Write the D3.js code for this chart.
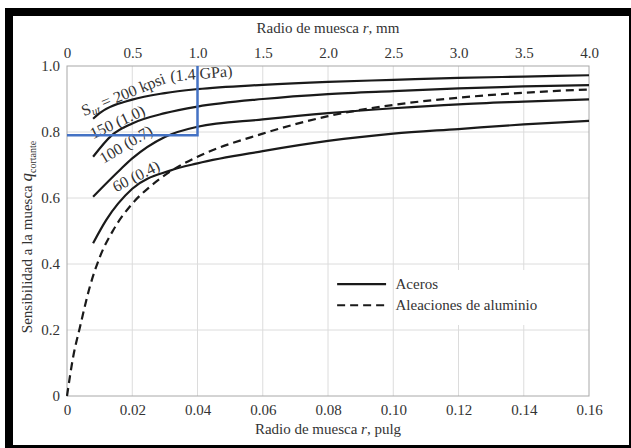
<!DOCTYPE html>
<html>
<head>
<meta charset="utf-8">
<script src="https://cdn.jsdelivr.net/npm/d3@7"></script>
<style>
  body { margin: 0; background: #fff; }
  svg { display: block; }
  svg text { font-family: "Liberation Serif", "Times New Roman", "DejaVu Serif", serif !important; }
</style>
</head>
<body>
<div id="chart"></div>
<script>
// notch radius in inches, q values
const steel200 = [[0.008,0.84],[0.01,0.857],[0.02,0.898],[0.03,0.918],[0.04,0.93],[0.06,0.943],[0.08,0.952],[0.10,0.958],[0.12,0.964],[0.14,0.968],[0.16,0.972]];
const steel150 = [[0.008,0.725],[0.0137,0.79],[0.02,0.826],[0.03,0.857],[0.04,0.877],[0.06,0.9],[0.08,0.915],[0.10,0.924],[0.12,0.932],[0.14,0.938],[0.16,0.942]];
const steel100 = [[0.008,0.604],[0.0162,0.685],[0.02,0.72],[0.03,0.785],[0.04,0.816],[0.06,0.838],[0.08,0.857],[0.10,0.872],[0.12,0.884],[0.14,0.892],[0.16,0.899]];
const steel60 = [[0.008,0.463],[0.012,0.533],[0.02,0.628],[0.0316,0.683],[0.04,0.705],[0.06,0.742],[0.08,0.773],[0.10,0.795],[0.12,0.809],[0.14,0.823],[0.16,0.834]];
const aluminum = [[0,0],[0.0019,0.119],[0.004,0.21],[0.007,0.331],[0.0101,0.422],[0.0142,0.503],[0.0201,0.584],[0.0254,0.634],[0.0316,0.68],[0.04,0.725],[0.06,0.795],[0.08,0.848],[0.10,0.882],[0.12,0.904],[0.14,0.919],[0.16,0.929]];

const xTicksIn = [0, 0.02, 0.04, 0.06, 0.08, 0.10, 0.12, 0.14, 0.16];
const xTickLabelsIn = ["0", "0.02", "0.04", "0.06", "0.08", "0.10", "0.12", "0.14", "0.16"];
const xTicksMm = [0, 0.5, 1.0, 1.5, 2.0, 2.5, 3.0, 3.5, 4.0];
const xTickLabelsMm = ["0", "0.5", "1.0", "1.5", "2.0", "2.5", "3.0", "3.5", "4.0"];
const yTicks = [0, 0.2, 0.4, 0.6, 0.8, 1.0];
const yTickLabels = ["0", "0.2", "0.4", "0.6", "0.8", "1.0"];

// blue guide: r = 0.04 in -> q ~ 0.79
const guide = { x: 0.04, q: 0.79 };

const W = 631, H = 448;
const margin = { top: 66, right: 42, bottom: 52, left: 67 };
const width = W - margin.left - margin.right;
const height = H - margin.top - margin.bottom;

const svg = d3.select("#chart").append("svg").attr("width", W).attr("height", H);

// black frame round the picture
svg.append("rect").attr("x", 5).attr("y", 8).attr("width", W - 5).attr("height", H - 8).attr("fill", "#000");
svg.append("rect").attr("x", 13).attr("y", 16).attr("width", W - 15).attr("height", H - 19).attr("fill", "#fff");

const g = svg.append("g").attr("transform", "translate(" + margin.left + "," + margin.top + ")");

const x = d3.scaleLinear().domain([0, 0.16]).range([0, width]);
const xMm = d3.scaleLinear().domain([0, 4.0]).range([0, width]);
const y = d3.scaleLinear().domain([0, 1.0]).range([height, 0]);

// grid
g.selectAll(".vgrid").data(xTicksIn.slice(1, -1)).enter().append("line")
    .attr("x1", d => x(d)).attr("x2", d => x(d))
    .attr("y1", 0).attr("y2", height)
    .attr("stroke", "#dcdcdc").attr("stroke-width", 1);
g.selectAll(".hgrid").data(yTicks.slice(1, -1)).enter().append("line")
    .attr("x1", 0).attr("x2", width)
    .attr("y1", d => y(d)).attr("y2", d => y(d))
    .attr("stroke", "#dcdcdc").attr("stroke-width", 1);

g.append("rect").attr("width", width).attr("height", height)
    .attr("fill", "none").attr("stroke", "#a8a8a8").attr("stroke-width", 1);

// axes
const axisBottom = d3.axisBottom(x).tickValues(xTicksIn).tickSize(0).tickPadding(8)
    .tickFormat((d, i) => xTickLabelsIn[i]);
g.append("g").attr("transform", "translate(0," + height + ")").call(axisBottom)
    .call(a => a.select(".domain").remove());

const axisTop = d3.axisTop(xMm).tickValues(xTicksMm).tickSize(0).tickPadding(8)
    .tickFormat((d, i) => xTickLabelsMm[i]);
g.append("g").call(axisTop).call(a => a.select(".domain").remove());

const axisLeft = d3.axisLeft(y).tickValues(yTicks).tickSize(0).tickPadding(7)
    .tickFormat((d, i) => yTickLabels[i]);
g.append("g").call(axisLeft).call(a => a.select(".domain").remove());

svg.selectAll(".tick text").attr("font-size", 15).attr("fill", "#333");

// axis titles
const topTitle = svg.append("text").attr("x", margin.left + width / 2).attr("y", 33)
    .attr("text-anchor", "middle").attr("font-size", 15).attr("fill", "#333");
topTitle.append("tspan").text("Radio de muesca ");
topTitle.append("tspan").attr("font-style", "italic").text("r");
topTitle.append("tspan").text(", mm");

const botTitle = svg.append("text").attr("x", margin.left + width / 2).attr("y", 434)
    .attr("text-anchor", "middle").attr("font-size", 15).attr("fill", "#333");
botTitle.append("tspan").text("Radio de muesca ");
botTitle.append("tspan").attr("font-style", "italic").text("r");
botTitle.append("tspan").text(", pulg");

const yTitle = svg.append("text")
    .attr("transform", "translate(32," + (margin.top + height / 2 + 6) + ") rotate(-90)")
    .attr("text-anchor", "middle").attr("font-size", 15).attr("fill", "#333");
yTitle.append("tspan").text("Sensibilidad a la muesca ");
yTitle.append("tspan").attr("font-style", "italic").attr("font-size", 17).text("q");
yTitle.append("tspan").attr("font-size", 10).attr("dy", 4).text("cortante");

// legend box (covers the grid)
g.append("rect").attr("x", x(0.1) + 2).attr("y", y(0.4) + 6)
    .attr("width", width - x(0.1) - 3).attr("height", 55).attr("fill", "#fff");

// curves
const line = d3.line().x(d => x(d[0])).y(d => y(d[1])).curve(d3.curveMonotoneX);

[steel200, steel150, steel100, steel60].forEach(s => {
    g.append("path").datum(s).attr("d", line)
        .attr("fill", "none").attr("stroke", "#1a1a1a").attr("stroke-width", 2.2);
});
g.append("path").datum(aluminum).attr("d", line)
    .attr("fill", "none").attr("stroke", "#1a1a1a").attr("stroke-width", 2.2)
    .attr("stroke-dasharray", "8,5");

// curve labels
function curveLabel(px, py, angle, parts) {
    const t = g.append("text")
        .attr("transform", "translate(" + px + "," + py + ") rotate(" + angle + ")")
        .attr("font-size", 16).attr("fill", "#333");
    parts.forEach(p => {
        const s = t.append("tspan").text(p.t);
        if (p.sub) s.attr("font-size", 11).attr("dy", 3).attr("font-style", "italic");
        if (p.dy) s.attr("dy", p.dy);
    });
}
curveLabel(x(0.0052), y(0.848), -22, [{ t: "S" }, { t: "ut", sub: true }, { t: " = 200 kpsi", dy: -3 }]);
g.append("text").attr("transform", "translate(" + x(0.0318) + "," + y(0.953) + ") rotate(-5)")
    .attr("font-size", 16).attr("fill", "#333").text("(1.4 GPa)");
curveLabel(x(0.008), y(0.778), -25, [{ t: "150  (1.0)" }]);
curveLabel(x(0.0112), y(0.703), -31, [{ t: "100  (0.7)" }]);
curveLabel(x(0.015), y(0.617), -27, [{ t: "60  (0.4)" }]);

// blue guide lines
g.append("path")
    .attr("d", "M" + x(0) + "," + y(guide.q) + "H" + x(guide.x) + "V" + y(1.0))
    .attr("fill", "none").attr("stroke", "#4472c4").attr("stroke-width", 2.5);

// legend
const lx0 = x(0.0828), lx1 = x(0.0978);
g.append("line").attr("x1", lx0).attr("x2", lx1).attr("y1", y(0.339)).attr("y2", y(0.339))
    .attr("stroke", "#1a1a1a").attr("stroke-width", 2.2);
g.append("text").attr("x", x(0.1007)).attr("y", y(0.339) + 5).attr("font-size", 15)
    .attr("fill", "#333").text("Aceros");
g.append("line").attr("x1", lx0).attr("x2", lx1).attr("y1", y(0.275)).attr("y2", y(0.275))
    .attr("stroke", "#1a1a1a").attr("stroke-width", 2.2).attr("stroke-dasharray", "8,5");
g.append("text").attr("x", x(0.1007)).attr("y", y(0.275) + 5).attr("font-size", 15)
    .attr("fill", "#333").text("Aleaciones de aluminio");
</script>
</body>
</html>
